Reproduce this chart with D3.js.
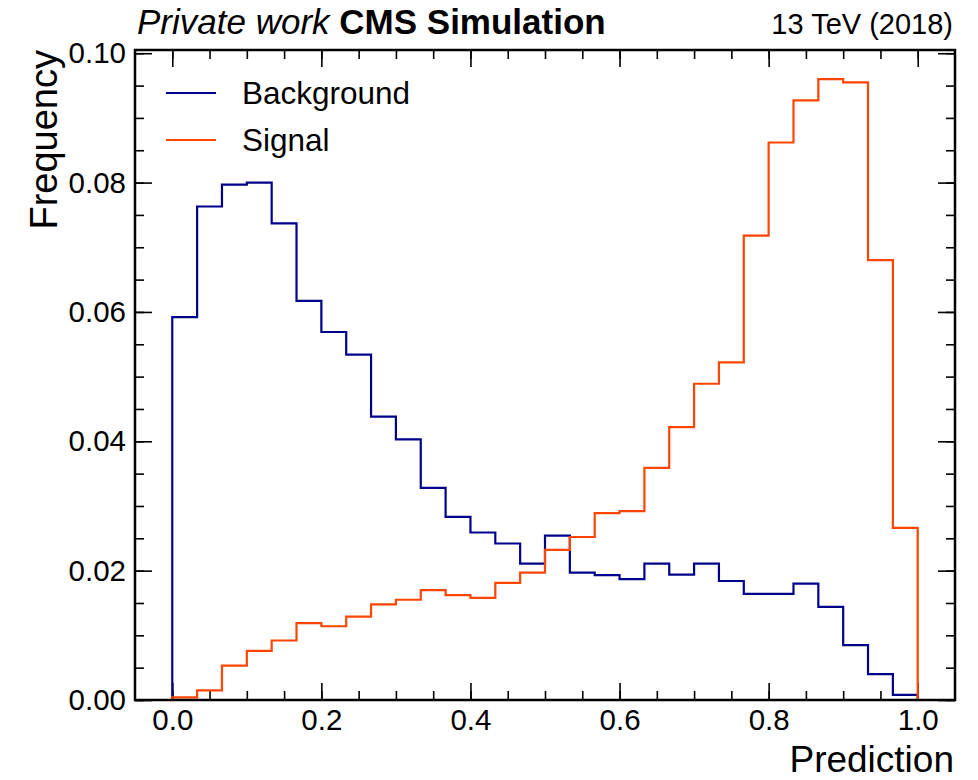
<html>
    <head>
            <title>Prediction histogram</title>
            <script src="https://cdnjs.cloudflare.com/ajax/libs/d3/7.8.5/d3.min.js"></script>
<style>
body { margin: 0; background: #fff; }
text { font-family: "Liberation Sans", Arial, sans-serif; fill: #000; }
</style>
    </head>
    <body>
        <svg id="chart" width="978" height="780"></svg>
        <script>
// 30 bins on [0, 1]
var binEdges = d3.range(31).map(function (i) { return i / 30; });

var background = [0.0592, 0.0763, 0.0797, 0.0800, 0.0737, 0.0617, 0.0569, 0.0534, 0.0438, 0.0403,
                  0.0328, 0.0283, 0.0259, 0.0242, 0.0211, 0.0254, 0.0197, 0.0193, 0.0187, 0.0211,
                  0.0194, 0.0211, 0.0184, 0.0164, 0.0164, 0.0180, 0.0144, 0.0085, 0.0040, 0.0008];

var signal = [0.0004, 0.0015, 0.0053, 0.0076, 0.0092, 0.0119, 0.0114, 0.0129, 0.0148, 0.0155,
              0.0170, 0.0162, 0.0158, 0.0181, 0.0197, 0.0232, 0.0252, 0.0289, 0.0292, 0.0359,
              0.0422, 0.0489, 0.0522, 0.0718, 0.0862, 0.0927, 0.0960, 0.0955, 0.0680, 0.0266];

var seriesNames = ['Background', 'Signal'];
var seriesColors = ['#00008b', '#ff4500'];

var xTicks = [0.0, 0.2, 0.4, 0.6, 0.8, 1.0];
var yTicks = [0.00, 0.02, 0.04, 0.06, 0.08, 0.10];

var svg = d3.select('#chart');
var mLeft = 135, mRight = 955, mTop = 50, mBottom = 700;

var x = d3.scaleLinear().domain([-0.05, 1.05]).range([mLeft, mRight]);
var y = d3.scaleLinear().domain([0, 0.1005]).range([mBottom, mTop]);

var xMinor = d3.range(0, 21).map(function (i) { return i * 0.05; });
var yMinor = d3.range(0, 21).map(function (i) { return i * 0.005; });

function drawAxis(axis, tx, ty, withLabels) {
    var g = svg.append('g').attr('transform', 'translate(' + tx + ',' + ty + ')').call(axis);
    g.select('.domain').remove();
    g.selectAll('line').attr('stroke', '#000').attr('stroke-width', 1.6);
    if (!withLabels) g.selectAll('text').remove();
    return g;
}

// ticks pointing inward on all four sides
var gx = drawAxis(d3.axisBottom(x).tickValues(xTicks).tickSize(-17).tickPadding(9).tickFormat(d3.format('.1f')), 0, mBottom, true);
gx.selectAll('text').style('font-size', '29.5px');
drawAxis(d3.axisBottom(x).tickValues(xMinor).tickSize(-9).tickFormat(''), 0, mBottom, false);
drawAxis(d3.axisTop(x).tickValues(xTicks).tickSize(-17), 0, mTop, false);
drawAxis(d3.axisTop(x).tickValues(xMinor).tickSize(-9), 0, mTop, false);

var gy = drawAxis(d3.axisLeft(y).tickValues(yTicks).tickSize(-17).tickPadding(9).tickFormat(d3.format('.2f')), mLeft, 0, true);
gy.selectAll('text').style('font-size', '29.5px');
drawAxis(d3.axisLeft(y).tickValues(yMinor).tickSize(-9).tickFormat(''), mLeft, 0, false);
drawAxis(d3.axisRight(y).tickValues(yTicks).tickSize(-17), mRight, 0, false);
drawAxis(d3.axisRight(y).tickValues(yMinor).tickSize(-9), mRight, 0, false);

// step histograms
var line = d3.line()
    .x(function (d) { return x(d[0]); })
    .y(function (d) { return y(d[1]); })
    .curve(d3.curveStepAfter);

[background, signal].forEach(function (vals, k) {
    var pts = [[0, 0]];
    vals.forEach(function (v, i) { pts.push([binEdges[i], v]); });
    pts.push([1, 0]);
    svg.append('path')
        .attr('d', line(pts))
        .attr('fill', 'none')
        .attr('stroke', seriesColors[k])
        .attr('stroke-width', 2.2);
});

svg.append('rect')
    .attr('x', mLeft).attr('y', mTop)
    .attr('width', mRight - mLeft).attr('height', mBottom - mTop)
    .attr('fill', 'none').attr('stroke', '#000').attr('stroke-width', 2.5);

// legend
seriesNames.forEach(function (name, k) {
    var ly = 93 + k * 47;
    svg.append('line').attr('x1', 166).attr('x2', 216).attr('y1', ly).attr('y2', ly)
        .attr('stroke', seriesColors[k]).attr('stroke-width', 2.2);
    svg.append('text').attr('x', 242).attr('y', ly + 11).style('font-size', '31.5px').text(name);
});

// labels
var title = svg.append('text').attr('x', 137).attr('y', 34).style('font-size', '35px');
title.append('tspan').style('font-style', 'italic').text('Private work ');
title.append('tspan').style('font-weight', 'bold').text('CMS Simulation');

svg.append('text').attr('x', 953).attr('y', 34).attr('text-anchor', 'end')
    .style('font-size', '29px').text('13 TeV (2018)');

svg.append('text').attr('x', 954).attr('y', 772).attr('text-anchor', 'end')
    .style('font-size', '37px').text('Prediction');

svg.append('text').attr('transform', 'translate(57,50) rotate(-90)').attr('text-anchor', 'end')
    .style('font-size', '38px').text('Frequency');
        </script>
    </body>
</html>
